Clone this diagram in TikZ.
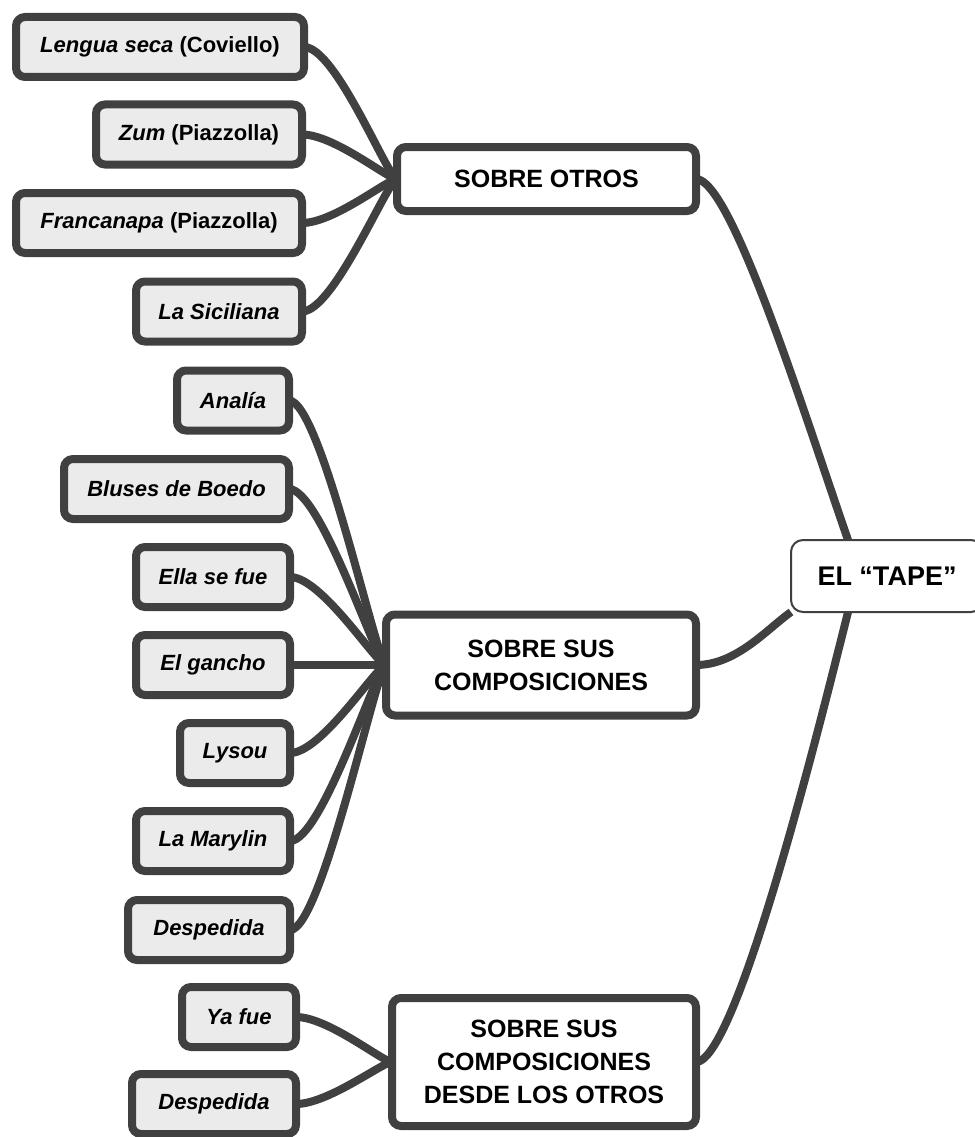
\documentclass[tikz,border=0pt]{standalone}
\usepackage{fontspec}
\setmainfont{Liberation Sans}
\usetikzlibrary{calc,backgrounds}
\definecolor{edgegray}{HTML}{404040}
\definecolor{leaffill}{HTML}{EBEBEB}
\begin{document}
\begin{tikzpicture}[x=1pt,y=-1pt,
 leaf/.style={draw=edgegray, line width=8pt, fill=leaffill, rounded corners=9pt, minimum height=60pt, inner sep=0pt, outer sep=0pt, font=\fontsize{22}{26}\selectfont\bfseries\itshape, text=black},
 topic/.style={draw=edgegray, line width=8pt, fill=white, rounded corners=9pt, inner sep=0pt, outer sep=0pt, align=center, font=\fontsize{25}{33}\selectfont\bfseries, text=black},
 rootbox/.style={draw=edgegray, line width=2pt, fill=white, rounded corners=12pt, inner sep=0pt, outer sep=0pt, font=\fontsize{27}{32}\selectfont\bfseries, text=black},
 link/.style={draw=edgegray, line width=8pt}
]
\useasboundingbox (0,0) rectangle (974,1137);

% root
\node[rootbox, minimum width=192pt, minimum height=72pt] (root) at (887,576) {EL “TAPE”};

% topics
\node[topic, minimum width=299pt, minimum height=64pt] (so) at (546.5,179) {SOBRE OTROS};
\node[topic, minimum width=310pt, minimum height=101pt] (ssc) at (541,665) {SOBRE SUS\\COMPOSICIONES};
\node[topic, minimum width=304pt, minimum height=128pt] (sscd) at (544,1062) {SOBRE SUS\\COMPOSICIONES\\DESDE LOS OTROS};

% leaves
\node[leaf, minimum width=288pt] (l1) at (160,47) {Lengua seca \textup{(Coviello)}};
\node[leaf, minimum width=206pt] (l2) at (199,134.5) {Zum \textup{(Piazzolla)}};
\node[leaf, minimum width=286pt] (l3) at (159,223) {Francanapa \textup{(Piazzolla)}};
\node[leaf, minimum width=166pt] (l4) at (219,311.5) {La Siciliana};
\node[leaf, minimum width=112pt] (l5) at (233,400.5) {Analía};
\node[leaf, minimum width=225pt] (l6) at (176.5,489) {Bluses de Boedo};
\node[leaf, minimum width=154pt] (l7) at (213,577) {Ella se fue};
\node[leaf, minimum width=154pt] (l8) at (213,665) {El gancho};
\node[leaf, minimum width=110pt] (l9) at (235,753) {Lysou};
\node[leaf, minimum width=154pt] (l10) at (213,841) {La Marylin};
\node[leaf, minimum width=162pt] (l11) at (209,930) {Despedida};
\node[leaf, minimum width=114pt] (l12) at (239,1017) {Ya fue};
\node[leaf, minimum width=164pt] (l13) at (214,1104) {Despedida};

\begin{scope}[on background layer]
 \foreach \l in {l1,l2,l3,l4}
  \draw[link] (\l.east) .. controls +(32,0) and +(-9,0) .. (so.west);
 \foreach \l in {l5,l6,l7,l8,l9,l10,l11}
  \draw[link] (\l.east) .. controls +(32,0) and +(-9,0) .. (ssc.west);
 \foreach \l in {l12,l13}
  \draw[link] (\l.east) .. controls +(32,0) and +(-9,0) .. (sscd.west);
 \draw[link] (so.east) .. controls +(35,0) and +(-45,-130) .. ($(root.north west)+(57,0)$);
 \draw[link] (ssc.east) .. controls +(40,0) and +(-25,18) .. (root.south west);
 \draw[link] ($(root.south west)+(57,0)$) .. controls +(-30,120) and +(40,0) .. (sscd.east);
\end{scope}
\end{tikzpicture}
\end{document}
